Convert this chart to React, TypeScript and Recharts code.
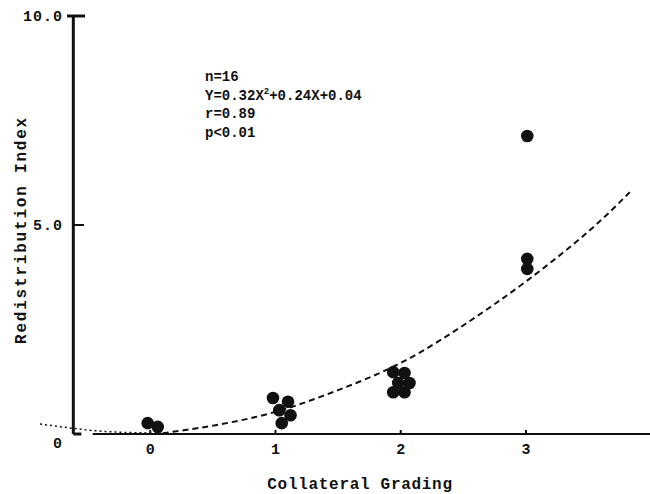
import React from 'react';
import {
  ComposedChart,
  Customized,
  Label,
  Line,
  ReferenceLine,
  Scatter,
  XAxis,
  YAxis,
} from 'recharts';

const FONT = '"Liberation Mono", "DejaVu Sans Mono", monospace';
const INK = '#111';

// one entry per patient: collateral grade (jittered as drawn) and redistribution index
const gradeValues = [-0.02, 0.06, 0.98, 1.1, 1.03, 1.12, 1.05, 1.94, 2.03, 1.98, 2.07, 1.94, 2.03, 3.01, 3.01, 3.01];
const indexValues = [0.26, 0.17, 0.86, 0.77, 0.57, 0.45, 0.26, 1.48, 1.46, 1.22, 1.22, 1.0, 1.0, 7.13, 4.19, 3.95];

// fitted curve (dotted part left of 0, dashed part after)
const fitLeftX = [-0.88, -0.6, -0.3, 0.1];
const fitLeftY = [0.24, 0.13, 0.05, 0.02];
const fitRightX = [0.1, 0.5, 1, 1.5, 2, 2.5, 3, 3.5, 3.85];
const fitRightY = [0.02, 0.2, 0.53, 1.05, 1.7, 2.6, 3.65, 4.85, 5.85];

const xTicks = [0, 1, 2, 3];
const yTicks = [0, 5, 10];
const yTickLabels = ['0', '5.0', '10.0'];
const eqHead = 'Y=0.32X';
const eqTail = '+0.24X+0.04';
const statLines = ['r=0.89', 'p<0.01'];

const points = gradeValues.map((x, i) => ({ x, y: indexValues[i] }));
const fitLeft = fitLeftX.map((x, i) => ({ x, y: fitLeftY[i] }));
const fitRight = fitRightX.map((x, i) => ({ x, y: fitRightY[i] }));

const textStyle = { fontFamily: FONT, fontWeight: 700, fill: INK } as const;

const YTick = (props: any) => {
  const { x, y, payload } = props;
  const v = payload.value;
  const label = yTickLabels[yTicks.indexOf(v)];
  return (
    <g>
      <text x={x + 23} y={v === 0 ? y + 14 : y + 5} textAnchor="end" fontSize={15} letterSpacing={1} {...textStyle}>
        {label}
      </text>
      {v === 10 && <line x1={x + 27} x2={x + 45} y1={y} y2={y} stroke={INK} strokeWidth={3} />}
      {v === 5 && <line x1={x + 33} x2={x + 44} y1={y} y2={y} stroke={INK} strokeWidth={2} />}
    </g>
  );
};

const XTick = (props: any) => {
  const { x, y, payload } = props;
  return (
    <g>
      <line x1={x} x2={x} y1={y - 4} y2={y + 1} stroke={INK} strokeWidth={2} />
      <text x={x} y={y + 20} textAnchor="middle" fontSize={15} {...textStyle}>
        {payload.value}
      </text>
    </g>
  );
};

const Dot = (props: any) => <circle cx={props.cx} cy={props.cy} r={6.3} fill={INK} />;

// regression note, with the squared sign raised after the first X
const Annotation = () => (
  <g>
    <text x={205} y={81} fontSize={14} {...textStyle}>
      n=16
    </text>
    <text x={205} y={99.5} fontSize={14} {...textStyle}>
      {eqHead}
      <tspan dy={-6} fontSize={9}>
        2
      </tspan>
      <tspan dy={6} fontSize={14}>
        {eqTail}
      </tspan>
    </text>
    {statLines.map((line, i) => (
      <text key={i} x={205} y={118 + i * 18.5} fontSize={14} {...textStyle}>
        {line}
      </text>
    ))}
  </g>
);

export default function App() {
  return (
    <div style={{ position: 'absolute', left: 0, top: 0, background: '#fff' }}>
      <ComposedChart width={650} height={494} margin={{ top: 16, right: 0, left: 0, bottom: 0 }}>
        <XAxis
          type="number"
          dataKey="x"
          domain={[-0.88, 3.99]}
          ticks={xTicks}
          interval={0}
          axisLine={false}
          tickLine={false}
          tickSize={0}
          tickMargin={0}
          height={60}
          tick={<XTick />}
        >
          <Label
            content={(p: any) => (
              <text
                x={p.viewBox.x + p.viewBox.width / 2 + 15}
                y={p.viewBox.y + 55}
                textAnchor="middle"
                fontSize={16}
                letterSpacing={0.7}
                {...textStyle}
              >
                Collateral Grading
              </text>
            )}
          />
        </XAxis>
        <YAxis
          type="number"
          domain={[0, 10]}
          ticks={yTicks}
          interval={0}
          width={40}
          axisLine={false}
          tickLine={false}
          tickSize={0}
          tickMargin={0}
          tick={<YTick />}
        >
          <Label
            content={(p: any) => {
              const cx = 22;
              const cy = p.viewBox.y + p.viewBox.height / 2 + 5;
              return (
                <text
                  x={cx}
                  y={cy}
                  transform={`rotate(-90 ${cx} ${cy})`}
                  textAnchor="middle"
                  dominantBaseline="central"
                  fontSize={16}
                  letterSpacing={1.8}
                  {...textStyle}
                >
                  Redistribution Index
                </text>
              );
            }}
          />
        </YAxis>

        {/* hand drawn axes */}
        <ReferenceLine segment={[{ x: -0.614, y: 0 }, { x: -0.614, y: 10 }]} stroke={INK} strokeWidth={3} />
        <ReferenceLine segment={[{ x: -0.614, y: 0 }, { x: -0.55, y: 0 }]} stroke={INK} strokeWidth={3} />
        <ReferenceLine segment={[{ x: -0.46, y: 0 }, { x: 3.99, y: 0 }]} stroke={INK} strokeWidth={2} />

        <Line
          data={fitLeft}
          dataKey="y"
          type="natural"
          stroke={INK}
          strokeWidth={1.5}
          strokeDasharray="2 3"
          dot={false}
          activeDot={false}
          isAnimationActive={false}
        />
        <Line
          data={fitRight}
          dataKey="y"
          type="natural"
          stroke={INK}
          strokeWidth={2}
          strokeDasharray="6 4"
          dot={false}
          activeDot={false}
          isAnimationActive={false}
        />
        <Scatter data={points} dataKey="y" shape={<Dot />} isAnimationActive={false} />
        <Customized component={Annotation} />
      </ComposedChart>
    </div>
  );
}
